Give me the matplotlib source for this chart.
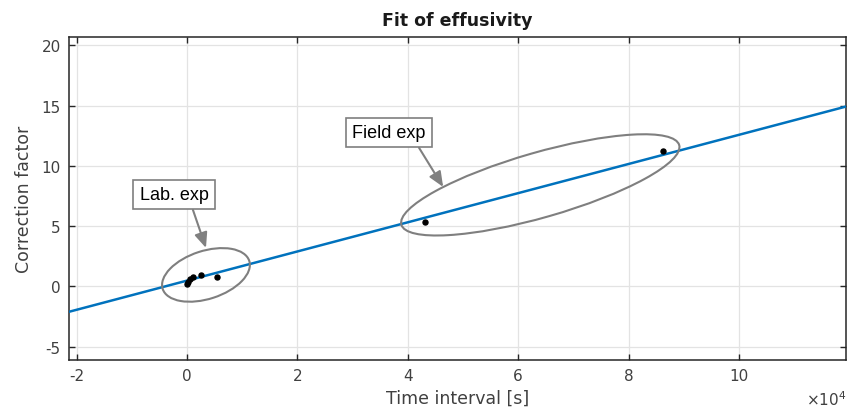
import matplotlib
matplotlib.use('Agg')
import matplotlib.pyplot as plt
from matplotlib.patches import Ellipse
from matplotlib.transforms import ScaledTranslation
from matplotlib.ticker import FuncFormatter, FixedLocator

# ---- data (time in seconds) ----
lab_time = [0, 200, 500, 1100, 2600, 5500]
lab_corr = [0.21, 0.40, 0.62, 0.76, 0.98, 0.81]
field_time = [43200, 86300]
field_corr = [5.33, 11.2]
fit_time = [-21400, 119400]
fit_corr = [-2.10, 14.93]

xticks = [-20000, 0, 20000, 40000, 60000, 80000, 100000]
yticks = [-5, 0, 5, 10, 15, 20]
xlim = (-21400, 119400)
ylim = (-6.1, 20.7)

title = "Fit of effusivity"
xlabel = "Time interval [s]"
ylabel = "Correction factor"

plt.rcParams['font.family'] = ['DejaVu Sans']
plt.rcParams['mathtext.fontset'] = 'dejavusans'
plt.rcParams['axes.unicode_minus'] = False

fig = plt.figure(figsize=(8.47, 4.10), dpi=100)
ax = fig.add_axes([69/847, 49/410, 777/847, 323/410])

ax.set_xlim(*xlim)
ax.set_ylim(*ylim)
ax.xaxis.set_major_locator(FixedLocator(xticks))
ax.yaxis.set_major_locator(FixedLocator(yticks))
ax.xaxis.set_major_formatter(FuncFormatter(lambda v, p: f"{v/1e4:g}"))

ax.grid(True, color='#e3e3e3', lw=0.9, zorder=0)
ax.set_axisbelow(True)
for s in ax.spines.values():
    s.set_color('#262626')
    s.set_linewidth(1.1)
ax.tick_params(direction='in', length=4, width=1, top=True, right=True,
               colors='#262626', labelcolor='#404040', labelsize=11, pad=6)

ax.plot(fit_time, fit_corr, color='#0072BD', lw=1.8, zorder=3)
ax.plot(lab_time, lab_corr, 'o', color='black', ms=3.6, zorder=4)
ax.plot(field_time, field_corr, 'o', color='black', ms=3.6, zorder=4)

ax.set_title(title, fontsize=12.5, fontweight='bold', color='#1a1a1a', pad=9)
ax.set_xlabel(xlabel, fontsize=12.5, color='#404040', labelpad=4)
ax.set_ylabel(ylabel, fontsize=12.5, color='#404040', labelpad=6)

ax.text(1.0, -0.140, r'$\times10^{4}$', transform=ax.transAxes, ha='right',
        va='baseline', fontsize=11, color='#404040')

# ellipses (centre in data coords, size in inches)
def add_ellipse(cx, cy, w_in, h_in, ang):
    tr = fig.dpi_scale_trans + ScaledTranslation(cx, cy, ax.transData)
    e = Ellipse((0, 0), w_in, h_in, angle=ang, transform=tr, fill=False,
                ec='#7f7f7f', lw=1.5, zorder=5, clip_on=False)
    ax.add_patch(e)

add_ellipse(3420, 0.96, 0.91, 0.48, 18)
add_ellipse(64000, 8.43, 2.89, 0.65, 16)

box = dict(boxstyle='square,pad=0.35', fc='white', ec='#7f7f7f', lw=1.2)
ax.annotate('Lab. exp', xy=(3420, 3.2), xytext=(-2370, 7.64), ha='center',
            va='center', fontsize=13, family=['Liberation Sans'], bbox=box,
            arrowprops=dict(arrowstyle='-|>,head_length=0.7,head_width=0.3',
                            color='#808080', lw=1.5, relpos=(0.74, 0),
                            shrinkA=0, shrinkB=0), zorder=6)
ax.annotate('Field exp', xy=(46400, 8.26), xytext=(36600, 12.79), ha='center',
            va='center', fontsize=13, family=['Liberation Sans'], bbox=box,
            arrowprops=dict(arrowstyle='-|>,head_length=0.7,head_width=0.3',
                            color='#808080', lw=1.5, relpos=(0.85, 0),
                            shrinkA=0, shrinkB=0), zorder=6)

fig.savefig('out.png', dpi=100)
